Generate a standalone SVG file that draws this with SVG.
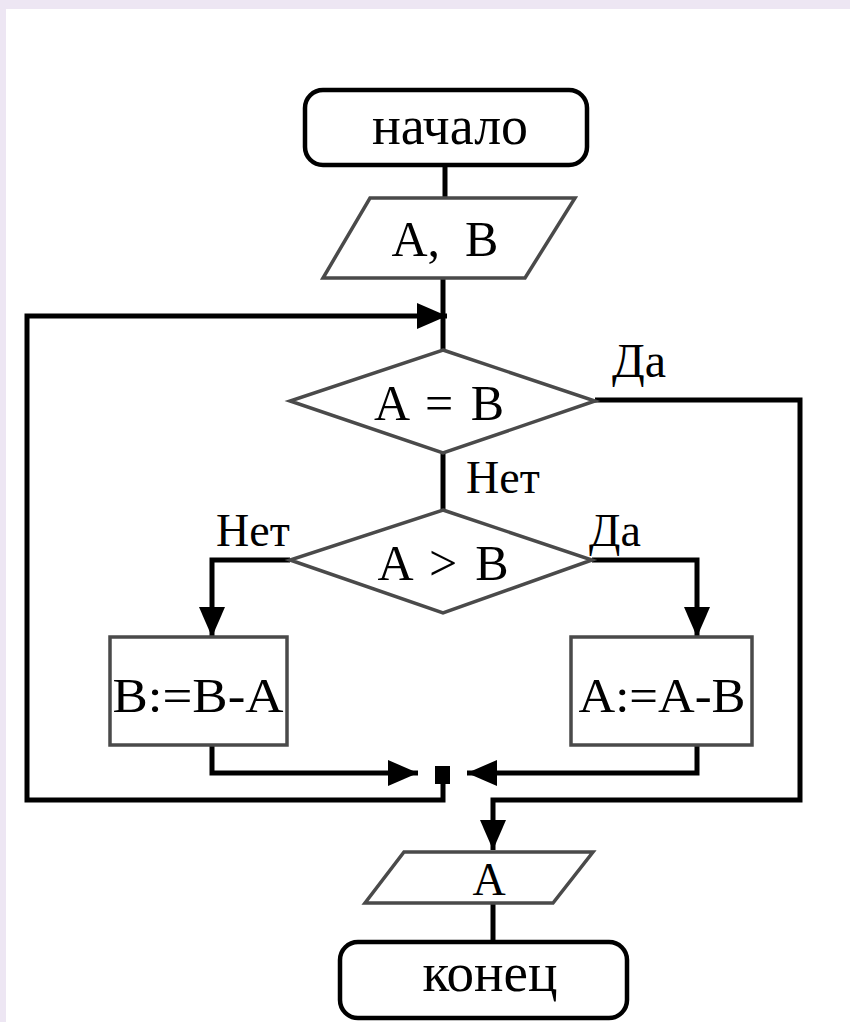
<svg xmlns="http://www.w3.org/2000/svg" width="850" height="1022" viewBox="0 0 850 1022">
  <style>
    .term { fill: #ffffff; stroke: #000000; stroke-width: 4.5; }
    .shape { fill: #ffffff; stroke: #4a4a4a; stroke-width: 3.5; }
    .conn { fill: none; stroke: #000000; stroke-width: 5; }
    .txt { font-family: "Liberation Serif", "Times New Roman", serif; fill: #000000; }
    .mid { text-anchor: middle; }
  </style>
  <defs>
    <marker id="arrow" markerUnits="userSpaceOnUse" markerWidth="30" markerHeight="26" refX="30" refY="13" orient="auto">
      <path d="M0,0 L30,13 L0,26 Z" fill="#000000"/>
    </marker>
  </defs>
  <rect x="0" y="0" width="850" height="1022" fill="#EDE6F3"/>
  <rect x="6" y="9" width="844" height="1013" fill="#ffffff"/>

  <g id="connectors">
    <line class="conn" x1="445" y1="165" x2="445" y2="198"/>
    <line class="conn" x1="443" y1="278" x2="443" y2="350"/>
    <polyline class="conn" points="443,772 443,800 27,800 27,316 447,316" marker-end="url(#arrow)"/>
    <polyline class="conn" points="595,400 800,400 800,800 493,800 493,850" marker-end="url(#arrow)"/>
    <line class="conn" x1="443" y1="453" x2="443" y2="510"/>
    <polyline class="conn" points="290,560 212,560 212,637" marker-end="url(#arrow)"/>
    <polyline class="conn" points="592,560 697,560 697,637" marker-end="url(#arrow)"/>
    <polyline class="conn" points="212,745 212,773 418,773" marker-end="url(#arrow)"/>
    <polyline class="conn" points="697,745 697,773 467,773" marker-end="url(#arrow)"/>
    <rect x="435" y="766" width="15" height="18" fill="#000000"/>
    <line class="conn" x1="493" y1="903" x2="493" y2="942"/>
    <text class="txt" x="612" y="377" font-size="48">Да</text>
    <text class="txt" x="466" y="493" font-size="46">Нет</text>
    <text class="txt" x="216" y="546" font-size="46">Нет</text>
    <text class="txt" x="589" y="546" font-size="46">Да</text>
  </g>

  <g id="start">
    <rect class="term" x="305" y="90" width="282" height="75" rx="18"/>
    <text class="txt mid" x="450" y="144" font-size="54" textLength="156" lengthAdjust="spacingAndGlyphs">начало</text>
  </g>

  <g id="input">
    <polygon class="shape" points="370,198 575,198 525,278 323,278"/>
    <text class="txt mid" x="445" y="256" font-size="50" xml:space="preserve" style="white-space:pre">A,  B</text>
  </g>

  <g id="cond1">
    <polygon class="shape" points="443,350 595,401 443,453 290,401"/>
    <text class="txt mid" x="439" y="420" font-size="50" textLength="130" lengthAdjust="spacing">A = B</text>
  </g>

  <g id="cond2">
    <polygon class="shape" points="443,510 592,560 443,613 290,560"/>
    <text class="txt mid" x="443" y="580" font-size="50" textLength="131" lengthAdjust="spacing">A &gt; B</text>
  </g>

  <g id="stepB">
    <rect class="shape" x="110" y="637" width="177" height="108"/>
    <text class="txt mid" x="198" y="712" font-size="48" textLength="171" lengthAdjust="spacingAndGlyphs">B:=B-A</text>
  </g>

  <g id="stepA">
    <rect class="shape" x="571" y="637" width="181" height="108"/>
    <text class="txt mid" x="662" y="712" font-size="48" textLength="167" lengthAdjust="spacingAndGlyphs">A:=A-B</text>
  </g>

  <g id="output">
    <polygon class="shape" points="404,852 593,852 553,903 365,903"/>
    <text class="txt mid" x="489" y="895" font-size="46">A</text>
  </g>

  <g id="end">
    <rect class="term" x="340" y="942" width="287" height="76" rx="18"/>
    <text class="txt mid" x="490" y="991" font-size="54" textLength="135" lengthAdjust="spacingAndGlyphs">конец</text>
  </g>
</svg>
